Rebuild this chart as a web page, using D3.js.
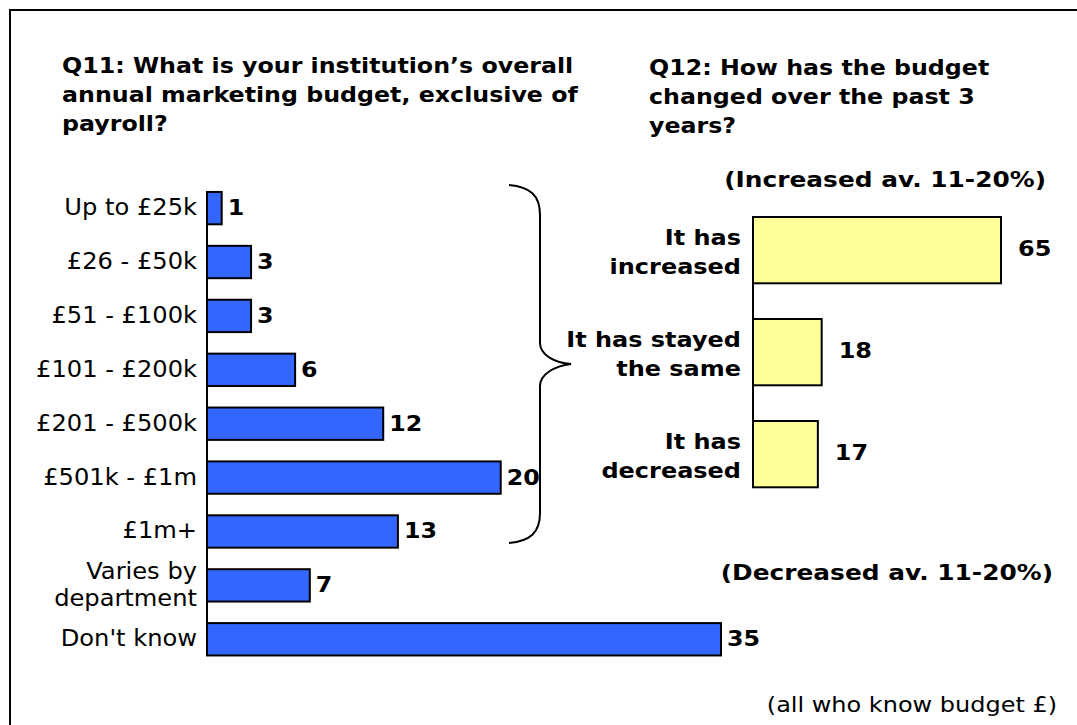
<!DOCTYPE html>
<html><head><meta charset="utf-8">
<script src="https://cdn.jsdelivr.net/npm/d3@7"></script>
<style>body{margin:0;background:#fff}svg{display:block}</style>
</head><body><svg id="c" width="1077" height="725"></svg>
<script>
// ---- data ----
const q11Title = ["Q11: What is your institution’s overall", "annual marketing budget, exclusive of", "payroll?"];
const budgetCategories = ["Up to £25k", "£26 - £50k", "£51 - £100k", "£101 - £200k", "£201 - £500k", "£501k - £1m", "£1m+", "Varies by|department", "Don't know"];
const budgetValues = [1, 3, 3, 6, 12, 20, 13, 7, 35];

const q12Title = ["Q12: How has the budget", "changed over the past 3", "years?"];
const changeCategories = ["It has|increased", "It has stayed|the same", "It has|decreased"];
const changeValues = [65, 18, 17];
const notes = ["(Increased av. 11-20%)", "(Decreased av. 11-20%)", "(all who know budget £)"];

// ---- drawing ----
const svg = d3.select("#c");
const F = "'DejaVu Sans', Verdana, sans-serif";

svg.append("rect").attr("x", 10).attr("y", 10).attr("width", 1200).attr("height", 1000)
  .attr("fill", "#fff").attr("stroke", "#000").attr("stroke-width", 2);

// text helper: lines anchored at x, first baseline y0, line height lh, horizontal stretch sx
function txt(parent, lines, x, y0, lh, o) {
  const t = parent.append("text")
    .attr("transform", `translate(${x},0) scale(${o.sx || 1},1)`)
    .attr("font-family", F).attr("font-size", o.size)
    .attr("font-weight", o.bold ? "bold" : "normal")
    .attr("text-anchor", o.anchor || "start").attr("fill", "#000");
  lines.forEach((l, i) => t.append("tspan").attr("x", 0).attr("y", y0 + i * lh).text(l));
  return t;
}
const sTitle = { size: 21, bold: true, sx: 1.13 };
txt(svg, q11Title, 62, 73, 29, sTitle);
txt(svg, q12Title, 649, 75, 29, sTitle);

// Left chart
const x1 = d3.scaleLinear().domain([0, 35]).range([207, 721]);
const y1 = d3.scaleBand().domain(budgetCategories).range([170.4, 677]).paddingInner(0.4).paddingOuter(0.4);
const g1 = svg.append("g");
g1.selectAll("rect").data(budgetValues).join("rect")
  .attr("x", x1(0)).attr("y", (d, i) => y1(budgetCategories[i]))
  .attr("width", d => x1(d) - x1(0)).attr("height", y1.bandwidth())
  .attr("fill", "#3366FF").attr("stroke", "#000").attr("stroke-width", 2);
g1.append("line").attr("x1", x1(0)).attr("x2", x1(0))
  .attr("y1", y1(budgetCategories[0])).attr("y2", y1(budgetCategories[budgetCategories.length - 1]) + y1.bandwidth())
  .attr("stroke", "#000").attr("stroke-width", 2);
budgetCategories.forEach((c, i) => {
  const parts = c.split("|");
  const cy = y1(c) + y1.bandwidth() / 2;
  txt(g1, parts, 197, cy + 7 - (parts.length - 1) * 13.5, 27, { size: 23, sx: 1.05, anchor: "end" });
  txt(g1, [String(budgetValues[i])], x1(budgetValues[i]) + 6, cy + 7, 0, { size: 22, bold: true, sx: 1.08 });
});

// brace
svg.append("path")
  .attr("d", "M509,185 C530,187 540,195 540,215 L540,343 C540,355 555,363 571,364 C555,366 540,374 540,386 L540,513 C540,533 530,541 509,543")
  .attr("fill", "none").attr("stroke", "#000").attr("stroke-width", 2);

// Right chart
const x2 = d3.scaleLinear().domain([0, 65]).range([753, 1001]);
const y2 = d3.scaleBand().domain(changeCategories).range([181.3, 523]).paddingInner(0.35).paddingOuter(0.35);
const g2 = svg.append("g");
g2.selectAll("rect").data(changeValues).join("rect")
  .attr("x", x2(0)).attr("y", (d, i) => y2(changeCategories[i]))
  .attr("width", d => x2(d) - x2(0)).attr("height", y2.bandwidth())
  .attr("fill", "#FFFF99").attr("stroke", "#000").attr("stroke-width", 2);
g2.append("line").attr("x1", x2(0)).attr("x2", x2(0))
  .attr("y1", y2(changeCategories[0])).attr("y2", y2(changeCategories[2]) + y2.bandwidth())
  .attr("stroke", "#000").attr("stroke-width", 2);
changeCategories.forEach((c, i) => {
  const parts = c.split("|");
  const cy = y2(c) + y2.bandwidth() / 2;
  txt(g2, parts, 741, cy - 5, 29, { size: 22, bold: true, sx: 1.09, anchor: "end" });
  txt(g2, [String(changeValues[i])], x2(changeValues[i]) + 17, cy + 6, 0, { size: 22, bold: true, sx: 1.09 });
});

// notes
txt(svg, [notes[0]], 1046, 187, 0, { size: 22, bold: true, sx: 1.13, anchor: "end" });
txt(svg, [notes[1]], 1053, 580, 0, { size: 22, bold: true, sx: 1.13, anchor: "end" });
txt(svg, [notes[2]], 1057, 712, 0, { size: 22, sx: 1.09, anchor: "end" });
</script></body></html>
